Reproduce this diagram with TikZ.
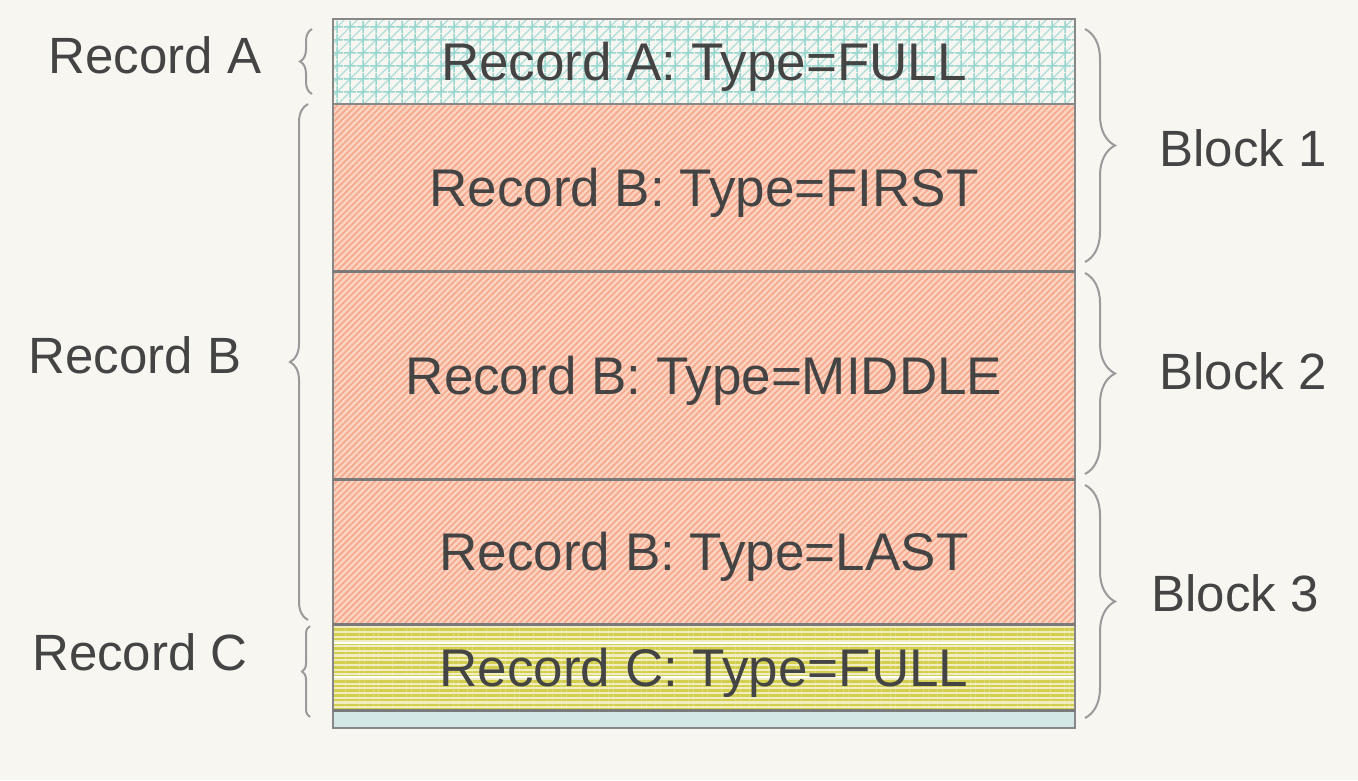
\documentclass[tikz,border=0pt]{standalone}
\usepackage{fontspec}
\setmainfont{Liberation Sans}
\usetikzlibrary{positioning}
\usetikzlibrary{patterns.meta,decorations.pathreplacing}
\definecolor{fond}{HTML}{F7F6F1}
\definecolor{encre}{HTML}{444444}
\definecolor{bord}{HTML}{888888}
\definecolor{cyanpale}{HTML}{97D5CF}
\definecolor{saumon}{HTML}{FBD3C2}
\definecolor{saumonfonce}{HTML}{F6A98A}
\definecolor{jaune}{HTML}{D3CE4E}
\definecolor{jaunepale}{HTML}{F0EEC0}
\definecolor{bleupale}{HTML}{D3E8E6}
\tikzstyle{ligne}=[
  draw=bord,
  line width=2.8pt,
  outer sep=0pt,
  inner sep=0pt,
  minimum width=742pt,
  text depth=0pt,
  text=encre,
  font=\fontsize{53}{60}\selectfont
]
\tikzstyle{pleine}=[ligne,
  preaction={fill=fond},
  preaction={pattern={Lines[angle=45,distance=9.19pt,line width=1.2pt]},pattern color=cyanpale!80},
  pattern={Hatch[angle=0,distance=13pt,line width=1.7pt]},
  pattern color=cyanpale
]
\tikzstyle{morceau}=[ligne,
  preaction={fill=saumon},
  pattern={Lines[angle=45,distance=4.5pt,line width=1.7pt]},
  pattern color=saumonfonce
]
\tikzstyle{jaunie}=[ligne,
  preaction={fill=jaunepale},
  preaction={pattern={Lines[angle=0,distance=4.7pt,line width=2.6pt]},pattern color=jaune},
  pattern={Lines[angle=0,distance=34pt,line width=2.5pt,yshift=1pt]},
  pattern color=white
]
\tikzstyle{vide}=[ligne,fill=bleupale]
\tikzstyle{separation}=[draw=bord!90!black,line width=3pt]
\tikzstyle{accoladeg}=[draw=bord!85,line width=2pt,decorate,decoration={brace,amplitude=12pt}]
\tikzstyle{accoladed}=[draw=bord!85,line width=2pt,decorate,decoration={brace,amplitude=30pt}]
\tikzstyle{etiquette}=[text=encre,font=\fontsize{51}{60}\selectfont,inner sep=0pt]

\begin{document}
\begin{tikzpicture}[x=1pt,y=-1pt]
    \useasboundingbox[fill=fond] (0,0) rectangle (1358,780);
    \node[pleine,minimum height=85pt] (enrA) at (704,61.5) {Record A: Type=FULL};
    \node[morceau,minimum height=167pt,below=0pt of enrA] (enrB1) {Record B: Type=FIRST};
    \node[morceau,minimum height=208pt,below=0pt of enrB1] (enrB2) {Record B: Type=MIDDLE};
    \node[morceau,minimum height=145pt,below=0pt of enrB2] (enrB3) {Record B: Type=LAST};
    \node[jaunie,minimum height=86pt,below=0pt of enrB3] (enrC) {Record C: Type=FULL};
    \node[vide,minimum height=18pt,below=0pt of enrC] (reste) {};
    \draw[separation] (enrB1.south west) -- (enrB1.south east);
    \draw[separation] (enrB2.south west) -- (enrB2.south east);
    \draw[separation] (enrB3.south west) -- (enrB3.south east);
    \draw[separation] (enrC.south west) -- (enrC.south east);
    % accolades des enregistrements
    \draw[accoladeg] ([xshift=-21pt,yshift=10pt]enrA.south west) -- ([xshift=-21pt,yshift=-10pt]enrA.north west);
    \draw[accoladeg,decoration={amplitude=18pt}] ([xshift=-25pt,yshift=4pt]enrB3.south west) -- ([xshift=-25pt,yshift=0pt]enrB1.north west);
    \draw[accoladeg,decoration={amplitude=8pt}] ([xshift=-23pt,yshift=11pt]reste.south west) -- ([xshift=-23pt,yshift=-2pt]enrC.north west);
    \node[etiquette] (etA) at (155,55) {Record A};
    \node[etiquette] (etB) at (135,355) {Record B};
    \node[etiquette] (etC) at (140,652) {Record C};
    % accolades des blocs
    \draw[accoladed] ([xshift=10pt,yshift=-10pt]enrA.north east) -- ([xshift=10pt,yshift=9pt]enrB1.south east);
    \draw[accoladed] ([xshift=10pt,yshift=-2pt]enrB2.north east) -- ([xshift=10pt,yshift=5pt]enrB2.south east);
    \draw[accoladed] ([xshift=10pt,yshift=-6pt]enrB3.north east) -- ([xshift=10pt,yshift=10pt]reste.south east);
    \node[etiquette] (bl1) at (1243,148) {Block 1};
    \node[etiquette] (bl2) at (1243,371) {Block 2};
    \node[etiquette] (bl3) at (1235,593) {Block 3};
  \end{tikzpicture}
\end{document}
